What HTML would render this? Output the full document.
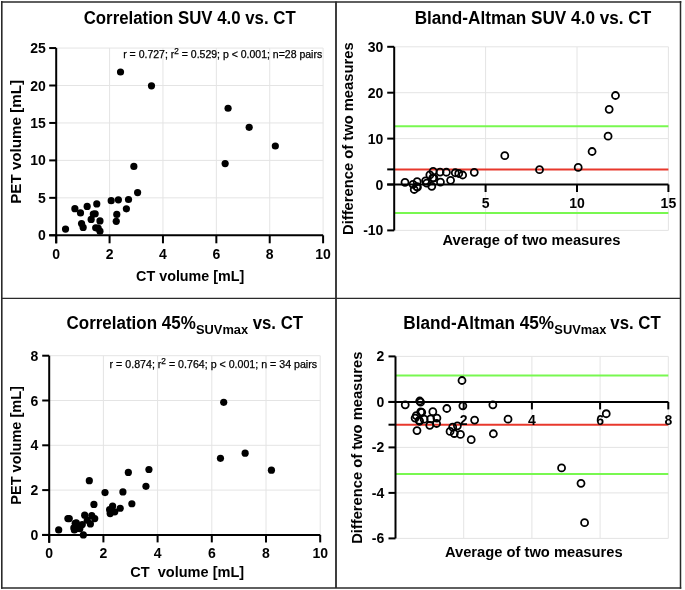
<!DOCTYPE html>
<html><head><meta charset="utf-8"><style>
html,body{margin:0;padding:0;background:#fff;width:685px;height:590px;overflow:hidden}
svg{display:block;will-change:transform}
</style></head><body>
<svg width="685" height="590" viewBox="0 0 685 590" font-family='"Liberation Sans", sans-serif'>
<rect x="0" y="0" width="685" height="590" fill="#fff"/>
<line x1="109.58" y1="48.05" x2="109.58" y2="235.30" stroke="#e4e4e4" stroke-width="1"/>
<line x1="162.96" y1="48.05" x2="162.96" y2="235.30" stroke="#e4e4e4" stroke-width="1"/>
<line x1="216.34" y1="48.05" x2="216.34" y2="235.30" stroke="#e4e4e4" stroke-width="1"/>
<line x1="269.72" y1="48.05" x2="269.72" y2="235.30" stroke="#e4e4e4" stroke-width="1"/>
<line x1="323.10" y1="48.05" x2="323.10" y2="235.30" stroke="#e4e4e4" stroke-width="1"/>
<line x1="56.20" y1="197.85" x2="323.10" y2="197.85" stroke="#e4e4e4" stroke-width="1"/>
<line x1="56.20" y1="160.40" x2="323.10" y2="160.40" stroke="#e4e4e4" stroke-width="1"/>
<line x1="56.20" y1="122.95" x2="323.10" y2="122.95" stroke="#e4e4e4" stroke-width="1"/>
<line x1="56.20" y1="85.50" x2="323.10" y2="85.50" stroke="#e4e4e4" stroke-width="1"/>
<line x1="56.20" y1="48.05" x2="323.10" y2="48.05" stroke="#e4e4e4" stroke-width="1"/>
<text x="123.20" y="58.00" font-size="10.5" font-weight="normal" text-anchor="start" textLength="199.00" lengthAdjust="spacingAndGlyphs" stroke="#000" stroke-width="0.25">r = 0.727; r<tspan font-size="8.2" dy="-4.3">2</tspan><tspan dy="4.3"> = 0.529; p &lt; 0.001; n=28 pairs</tspan></text>
<circle cx="65.54" cy="229.08" r="3.6" fill="#000"/>
<circle cx="74.88" cy="208.64" r="3.6" fill="#000"/>
<circle cx="80.49" cy="212.90" r="3.6" fill="#000"/>
<circle cx="81.56" cy="223.62" r="3.6" fill="#000"/>
<circle cx="83.16" cy="227.44" r="3.6" fill="#000"/>
<circle cx="87.16" cy="206.39" r="3.6" fill="#000"/>
<circle cx="91.16" cy="219.42" r="3.6" fill="#000"/>
<circle cx="93.30" cy="214.10" r="3.6" fill="#000"/>
<circle cx="95.17" cy="213.73" r="3.6" fill="#000"/>
<circle cx="96.77" cy="203.92" r="3.6" fill="#000"/>
<circle cx="95.70" cy="227.81" r="3.6" fill="#000"/>
<circle cx="99.97" cy="220.92" r="3.6" fill="#000"/>
<circle cx="99.97" cy="231.18" r="3.6" fill="#000"/>
<circle cx="98.10" cy="228.03" r="3.6" fill="#000"/>
<circle cx="111.18" cy="200.70" r="3.6" fill="#000"/>
<circle cx="118.39" cy="199.87" r="3.6" fill="#000"/>
<circle cx="128.53" cy="199.50" r="3.6" fill="#000"/>
<circle cx="137.60" cy="192.53" r="3.6" fill="#000"/>
<circle cx="126.39" cy="208.79" r="3.6" fill="#000"/>
<circle cx="116.79" cy="214.40" r="3.6" fill="#000"/>
<circle cx="116.25" cy="221.37" r="3.6" fill="#000"/>
<circle cx="120.52" cy="72.02" r="3.6" fill="#000"/>
<circle cx="151.48" cy="85.87" r="3.6" fill="#000"/>
<circle cx="228.08" cy="108.27" r="3.6" fill="#000"/>
<circle cx="249.17" cy="127.29" r="3.6" fill="#000"/>
<circle cx="275.32" cy="146.02" r="3.6" fill="#000"/>
<circle cx="225.15" cy="163.62" r="3.6" fill="#000"/>
<circle cx="133.87" cy="166.47" r="3.6" fill="#000"/>
<line x1="56.20" y1="48.05" x2="56.20" y2="243.30" stroke="#000" stroke-width="2"/>
<line x1="49.20" y1="235.30" x2="323.10" y2="235.30" stroke="#000" stroke-width="2"/>
<line x1="49.20" y1="235.30" x2="56.20" y2="235.30" stroke="#000" stroke-width="2"/>
<text x="45.80" y="240.30" font-size="14" font-weight="bold" text-anchor="end" >0</text>
<line x1="49.20" y1="197.85" x2="56.20" y2="197.85" stroke="#000" stroke-width="2"/>
<text x="45.80" y="202.85" font-size="14" font-weight="bold" text-anchor="end" >5</text>
<line x1="49.20" y1="160.40" x2="56.20" y2="160.40" stroke="#000" stroke-width="2"/>
<text x="45.80" y="165.40" font-size="14" font-weight="bold" text-anchor="end" >10</text>
<line x1="49.20" y1="122.95" x2="56.20" y2="122.95" stroke="#000" stroke-width="2"/>
<text x="45.80" y="127.95" font-size="14" font-weight="bold" text-anchor="end" >15</text>
<line x1="49.20" y1="85.50" x2="56.20" y2="85.50" stroke="#000" stroke-width="2"/>
<text x="45.80" y="90.50" font-size="14" font-weight="bold" text-anchor="end" >20</text>
<line x1="49.20" y1="48.05" x2="56.20" y2="48.05" stroke="#000" stroke-width="2"/>
<text x="45.80" y="53.05" font-size="14" font-weight="bold" text-anchor="end" >25</text>
<line x1="56.20" y1="235.30" x2="56.20" y2="243.30" stroke="#000" stroke-width="2"/>
<text x="56.20" y="259.20" font-size="14" font-weight="bold" text-anchor="middle" >0</text>
<line x1="109.58" y1="235.30" x2="109.58" y2="243.30" stroke="#000" stroke-width="2"/>
<text x="109.58" y="259.20" font-size="14" font-weight="bold" text-anchor="middle" >2</text>
<line x1="162.96" y1="235.30" x2="162.96" y2="243.30" stroke="#000" stroke-width="2"/>
<text x="162.96" y="259.20" font-size="14" font-weight="bold" text-anchor="middle" >4</text>
<line x1="216.34" y1="235.30" x2="216.34" y2="243.30" stroke="#000" stroke-width="2"/>
<text x="216.34" y="259.20" font-size="14" font-weight="bold" text-anchor="middle" >6</text>
<line x1="269.72" y1="235.30" x2="269.72" y2="243.30" stroke="#000" stroke-width="2"/>
<text x="269.72" y="259.20" font-size="14" font-weight="bold" text-anchor="middle" >8</text>
<line x1="323.10" y1="235.30" x2="323.10" y2="243.30" stroke="#000" stroke-width="2"/>
<text x="323.10" y="259.20" font-size="14" font-weight="bold" text-anchor="middle" >10</text>
<text x="83.71" y="23.80" font-size="17.5" font-weight="bold" text-anchor="start" textLength="211.97" lengthAdjust="spacingAndGlyphs" >Correlation SUV 4.0 vs. CT</text>
<text x="136.11" y="281.40" font-size="14.5" font-weight="bold" text-anchor="start" textLength="108.19" lengthAdjust="spacingAndGlyphs" >CT volume [mL]</text>
<g transform="translate(20.80,0) rotate(-90)">
<text x="-203.81" y="0.00" font-size="14.5" font-weight="bold" text-anchor="start" textLength="123.87" lengthAdjust="spacingAndGlyphs" >PET volume [mL]</text>
</g>
<line x1="485.60" y1="46.80" x2="485.60" y2="230.40" stroke="#e4e4e4" stroke-width="1"/>
<line x1="577.00" y1="46.80" x2="577.00" y2="230.40" stroke="#e4e4e4" stroke-width="1"/>
<line x1="668.40" y1="46.80" x2="668.40" y2="230.40" stroke="#e4e4e4" stroke-width="1"/>
<line x1="394.20" y1="46.80" x2="668.40" y2="46.80" stroke="#e4e4e4" stroke-width="1"/>
<line x1="394.20" y1="92.70" x2="668.40" y2="92.70" stroke="#e4e4e4" stroke-width="1"/>
<line x1="394.20" y1="138.60" x2="668.40" y2="138.60" stroke="#e4e4e4" stroke-width="1"/>
<line x1="394.20" y1="230.40" x2="668.40" y2="230.40" stroke="#e4e4e4" stroke-width="1"/>
<line x1="394.20" y1="126.30" x2="668.40" y2="126.30" stroke="#78f850" stroke-width="2"/>
<line x1="394.20" y1="213.00" x2="668.40" y2="213.00" stroke="#78f850" stroke-width="2"/>
<line x1="394.20" y1="169.40" x2="668.40" y2="169.40" stroke="#e8382c" stroke-width="2"/>
<line x1="394.20" y1="46.80" x2="394.20" y2="230.40" stroke="#000" stroke-width="2"/>
<line x1="387.20" y1="184.50" x2="668.40" y2="184.50" stroke="#000" stroke-width="2"/>
<line x1="387.20" y1="46.80" x2="394.20" y2="46.80" stroke="#000" stroke-width="2"/>
<text x="383.40" y="51.80" font-size="14" font-weight="bold" text-anchor="end" >30</text>
<line x1="387.20" y1="92.70" x2="394.20" y2="92.70" stroke="#000" stroke-width="2"/>
<text x="383.40" y="97.70" font-size="14" font-weight="bold" text-anchor="end" >20</text>
<line x1="387.20" y1="138.60" x2="394.20" y2="138.60" stroke="#000" stroke-width="2"/>
<text x="383.40" y="143.60" font-size="14" font-weight="bold" text-anchor="end" >10</text>
<line x1="387.20" y1="184.50" x2="394.20" y2="184.50" stroke="#000" stroke-width="2"/>
<text x="383.40" y="189.50" font-size="14" font-weight="bold" text-anchor="end" >0</text>
<line x1="387.20" y1="230.40" x2="394.20" y2="230.40" stroke="#000" stroke-width="2"/>
<text x="383.40" y="235.40" font-size="14" font-weight="bold" text-anchor="end" >-10</text>
<line x1="387.20" y1="169.40" x2="394.20" y2="169.40" stroke="#000" stroke-width="2"/>
<line x1="485.60" y1="184.50" x2="485.60" y2="192.00" stroke="#000" stroke-width="2"/>
<text x="485.60" y="207.60" font-size="14" font-weight="bold" text-anchor="middle" >5</text>
<line x1="577.00" y1="184.50" x2="577.00" y2="192.00" stroke="#000" stroke-width="2"/>
<text x="577.00" y="207.60" font-size="14" font-weight="bold" text-anchor="middle" >10</text>
<line x1="668.40" y1="184.50" x2="668.40" y2="192.00" stroke="#000" stroke-width="2"/>
<text x="668.40" y="207.60" font-size="14" font-weight="bold" text-anchor="middle" >15</text>
<circle cx="404.99" cy="182.30" r="3.5" fill="none" stroke="#000" stroke-width="1.8"/>
<circle cx="433.14" cy="171.37" r="3.5" fill="none" stroke="#000" stroke-width="1.8"/>
<circle cx="429.85" cy="174.95" r="3.5" fill="none" stroke="#000" stroke-width="1.8"/>
<circle cx="417.14" cy="181.70" r="3.5" fill="none" stroke="#000" stroke-width="1.8"/>
<circle cx="413.03" cy="184.32" r="3.5" fill="none" stroke="#000" stroke-width="1.8"/>
<circle cx="440.08" cy="172.11" r="3.5" fill="none" stroke="#000" stroke-width="1.8"/>
<circle cx="425.55" cy="180.78" r="3.5" fill="none" stroke="#000" stroke-width="1.8"/>
<circle cx="432.77" cy="177.89" r="3.5" fill="none" stroke="#000" stroke-width="1.8"/>
<circle cx="433.87" cy="177.98" r="3.5" fill="none" stroke="#000" stroke-width="1.8"/>
<circle cx="446.39" cy="172.24" r="3.5" fill="none" stroke="#000" stroke-width="1.8"/>
<circle cx="416.87" cy="186.70" r="3.5" fill="none" stroke="#000" stroke-width="1.8"/>
<circle cx="426.74" cy="183.21" r="3.5" fill="none" stroke="#000" stroke-width="1.8"/>
<circle cx="414.22" cy="189.50" r="3.5" fill="none" stroke="#000" stroke-width="1.8"/>
<circle cx="417.42" cy="187.25" r="3.5" fill="none" stroke="#000" stroke-width="1.8"/>
<circle cx="455.26" cy="172.75" r="3.5" fill="none" stroke="#000" stroke-width="1.8"/>
<circle cx="458.73" cy="173.48" r="3.5" fill="none" stroke="#000" stroke-width="1.8"/>
<circle cx="462.66" cy="175.00" r="3.5" fill="none" stroke="#000" stroke-width="1.8"/>
<circle cx="474.27" cy="172.29" r="3.5" fill="none" stroke="#000" stroke-width="1.8"/>
<circle cx="450.59" cy="180.32" r="3.5" fill="none" stroke="#000" stroke-width="1.8"/>
<circle cx="440.45" cy="182.11" r="3.5" fill="none" stroke="#000" stroke-width="1.8"/>
<circle cx="431.77" cy="186.29" r="3.5" fill="none" stroke="#000" stroke-width="1.8"/>
<circle cx="615.48" cy="95.50" r="3.5" fill="none" stroke="#000" stroke-width="1.8"/>
<circle cx="609.17" cy="109.32" r="3.5" fill="none" stroke="#000" stroke-width="1.8"/>
<circle cx="608.08" cy="136.21" r="3.5" fill="none" stroke="#000" stroke-width="1.8"/>
<circle cx="592.08" cy="151.50" r="3.5" fill="none" stroke="#000" stroke-width="1.8"/>
<circle cx="578.19" cy="167.47" r="3.5" fill="none" stroke="#000" stroke-width="1.8"/>
<circle cx="539.53" cy="169.63" r="3.5" fill="none" stroke="#000" stroke-width="1.8"/>
<circle cx="504.79" cy="155.67" r="3.5" fill="none" stroke="#000" stroke-width="1.8"/>
<text x="414.65" y="23.80" font-size="17.5" font-weight="bold" text-anchor="start" textLength="236.63" lengthAdjust="spacingAndGlyphs" >Bland-Altman SUV 4.0 vs. CT</text>
<text x="442.43" y="245.40" font-size="14.5" font-weight="bold" text-anchor="start" textLength="177.97" lengthAdjust="spacingAndGlyphs" >Average of two measures</text>
<g transform="translate(353.00,0) rotate(-90)">
<text x="-234.99" y="0.00" font-size="14.5" font-weight="bold" text-anchor="start" textLength="192.59" lengthAdjust="spacingAndGlyphs" >Difference of two measures</text>
</g>
<line x1="103.40" y1="355.70" x2="103.40" y2="534.90" stroke="#e4e4e4" stroke-width="1"/>
<line x1="157.60" y1="355.70" x2="157.60" y2="534.90" stroke="#e4e4e4" stroke-width="1"/>
<line x1="211.80" y1="355.70" x2="211.80" y2="534.90" stroke="#e4e4e4" stroke-width="1"/>
<line x1="266.00" y1="355.70" x2="266.00" y2="534.90" stroke="#e4e4e4" stroke-width="1"/>
<line x1="320.20" y1="355.70" x2="320.20" y2="534.90" stroke="#e4e4e4" stroke-width="1"/>
<line x1="49.20" y1="490.10" x2="320.20" y2="490.10" stroke="#e4e4e4" stroke-width="1"/>
<line x1="49.20" y1="445.30" x2="320.20" y2="445.30" stroke="#e4e4e4" stroke-width="1"/>
<line x1="49.20" y1="400.50" x2="320.20" y2="400.50" stroke="#e4e4e4" stroke-width="1"/>
<line x1="49.20" y1="355.70" x2="320.20" y2="355.70" stroke="#e4e4e4" stroke-width="1"/>
<text x="109.60" y="368.00" font-size="10.5" font-weight="normal" text-anchor="start" textLength="207.50" lengthAdjust="spacingAndGlyphs" stroke="#000" stroke-width="0.25">r = 0.874; r<tspan font-size="8.2" dy="-4.3">2</tspan><tspan dy="4.3"> = 0.764; p &lt; 0.001; n = 34 pairs</tspan></text>
<circle cx="58.69" cy="529.97" r="3.6" fill="#000"/>
<circle cx="67.90" cy="518.55" r="3.6" fill="#000"/>
<circle cx="69.25" cy="518.55" r="3.6" fill="#000"/>
<circle cx="75.22" cy="523.25" r="3.6" fill="#000"/>
<circle cx="73.86" cy="527.96" r="3.6" fill="#000"/>
<circle cx="79.01" cy="528.40" r="3.6" fill="#000"/>
<circle cx="84.70" cy="515.19" r="3.6" fill="#000"/>
<circle cx="83.35" cy="534.90" r="3.6" fill="#000"/>
<circle cx="91.75" cy="515.64" r="3.6" fill="#000"/>
<circle cx="94.73" cy="518.55" r="3.6" fill="#000"/>
<circle cx="90.39" cy="523.92" r="3.6" fill="#000"/>
<circle cx="76.30" cy="522.80" r="3.6" fill="#000"/>
<circle cx="74.40" cy="529.97" r="3.6" fill="#000"/>
<circle cx="82.26" cy="524.60" r="3.6" fill="#000"/>
<circle cx="93.92" cy="504.44" r="3.6" fill="#000"/>
<circle cx="89.31" cy="480.69" r="3.6" fill="#000"/>
<circle cx="105.03" cy="492.56" r="3.6" fill="#000"/>
<circle cx="122.91" cy="491.89" r="3.6" fill="#000"/>
<circle cx="128.33" cy="472.40" r="3.6" fill="#000"/>
<circle cx="148.93" cy="469.49" r="3.6" fill="#000"/>
<circle cx="145.95" cy="486.29" r="3.6" fill="#000"/>
<circle cx="131.86" cy="503.76" r="3.6" fill="#000"/>
<circle cx="120.20" cy="508.24" r="3.6" fill="#000"/>
<circle cx="112.61" cy="506.00" r="3.6" fill="#000"/>
<circle cx="110.18" cy="513.62" r="3.6" fill="#000"/>
<circle cx="114.78" cy="511.83" r="3.6" fill="#000"/>
<circle cx="109.63" cy="509.70" r="3.6" fill="#000"/>
<circle cx="223.72" cy="402.29" r="3.6" fill="#000"/>
<circle cx="220.47" cy="458.29" r="3.6" fill="#000"/>
<circle cx="245.13" cy="453.14" r="3.6" fill="#000"/>
<circle cx="271.42" cy="470.16" r="3.6" fill="#000"/>
<circle cx="79.82" cy="528.63" r="3.6" fill="#000"/>
<circle cx="87.28" cy="520.23" r="3.6" fill="#000"/>
<line x1="49.20" y1="355.70" x2="49.20" y2="542.90" stroke="#000" stroke-width="2"/>
<line x1="42.20" y1="534.90" x2="320.20" y2="534.90" stroke="#000" stroke-width="2"/>
<line x1="42.20" y1="534.90" x2="49.20" y2="534.90" stroke="#000" stroke-width="2"/>
<text x="38.40" y="539.90" font-size="14" font-weight="bold" text-anchor="end" >0</text>
<line x1="42.20" y1="490.10" x2="49.20" y2="490.10" stroke="#000" stroke-width="2"/>
<text x="38.40" y="495.10" font-size="14" font-weight="bold" text-anchor="end" >2</text>
<line x1="42.20" y1="445.30" x2="49.20" y2="445.30" stroke="#000" stroke-width="2"/>
<text x="38.40" y="450.30" font-size="14" font-weight="bold" text-anchor="end" >4</text>
<line x1="42.20" y1="400.50" x2="49.20" y2="400.50" stroke="#000" stroke-width="2"/>
<text x="38.40" y="405.50" font-size="14" font-weight="bold" text-anchor="end" >6</text>
<line x1="42.20" y1="355.70" x2="49.20" y2="355.70" stroke="#000" stroke-width="2"/>
<text x="38.40" y="360.70" font-size="14" font-weight="bold" text-anchor="end" >8</text>
<line x1="49.20" y1="534.90" x2="49.20" y2="542.40" stroke="#000" stroke-width="2"/>
<text x="49.20" y="557.60" font-size="14" font-weight="bold" text-anchor="middle" >0</text>
<line x1="103.40" y1="534.90" x2="103.40" y2="542.40" stroke="#000" stroke-width="2"/>
<text x="103.40" y="557.60" font-size="14" font-weight="bold" text-anchor="middle" >2</text>
<line x1="157.60" y1="534.90" x2="157.60" y2="542.40" stroke="#000" stroke-width="2"/>
<text x="157.60" y="557.60" font-size="14" font-weight="bold" text-anchor="middle" >4</text>
<line x1="211.80" y1="534.90" x2="211.80" y2="542.40" stroke="#000" stroke-width="2"/>
<text x="211.80" y="557.60" font-size="14" font-weight="bold" text-anchor="middle" >6</text>
<line x1="266.00" y1="534.90" x2="266.00" y2="542.40" stroke="#000" stroke-width="2"/>
<text x="266.00" y="557.60" font-size="14" font-weight="bold" text-anchor="middle" >8</text>
<line x1="320.20" y1="534.90" x2="320.20" y2="542.40" stroke="#000" stroke-width="2"/>
<text x="320.20" y="557.60" font-size="14" font-weight="bold" text-anchor="middle" >10</text>
<text x="66.50" y="328.90" font-size="17.5" font-weight="bold" text-anchor="start" textLength="129.24" lengthAdjust="spacingAndGlyphs" >Correlation 45%</text>
<text x="196.03" y="334.00" font-size="13" font-weight="bold" text-anchor="start" textLength="52.06" lengthAdjust="spacingAndGlyphs" >SUVmax</text>
<text x="252.73" y="328.90" font-size="17.5" font-weight="bold" text-anchor="start" textLength="50.25" lengthAdjust="spacingAndGlyphs" >vs. CT</text>
<text x="130.30" y="576.90" font-size="14.5" font-weight="bold" text-anchor="start" textLength="113.81" lengthAdjust="spacingAndGlyphs" >CT&#160; volume [mL]</text>
<g transform="translate(20.70,0) rotate(-90)">
<text x="-504.67" y="0.00" font-size="14" font-weight="bold" text-anchor="start" textLength="118.49" lengthAdjust="spacingAndGlyphs" >PET volume [mL]</text>
</g>
<line x1="463.70" y1="356.40" x2="463.70" y2="538.40" stroke="#e4e4e4" stroke-width="1"/>
<line x1="531.90" y1="356.40" x2="531.90" y2="538.40" stroke="#e4e4e4" stroke-width="1"/>
<line x1="600.10" y1="356.40" x2="600.10" y2="538.40" stroke="#e4e4e4" stroke-width="1"/>
<line x1="668.30" y1="356.40" x2="668.30" y2="538.40" stroke="#e4e4e4" stroke-width="1"/>
<line x1="395.50" y1="356.40" x2="668.30" y2="356.40" stroke="#e4e4e4" stroke-width="1"/>
<line x1="395.50" y1="447.40" x2="668.30" y2="447.40" stroke="#e4e4e4" stroke-width="1"/>
<line x1="395.50" y1="492.90" x2="668.30" y2="492.90" stroke="#e4e4e4" stroke-width="1"/>
<line x1="395.50" y1="538.40" x2="668.30" y2="538.40" stroke="#e4e4e4" stroke-width="1"/>
<line x1="395.50" y1="375.40" x2="668.30" y2="375.40" stroke="#78f850" stroke-width="2"/>
<line x1="395.50" y1="474.00" x2="668.30" y2="474.00" stroke="#78f850" stroke-width="2"/>
<line x1="395.50" y1="424.70" x2="668.30" y2="424.70" stroke="#e8382c" stroke-width="2"/>
<line x1="395.50" y1="356.40" x2="395.50" y2="538.40" stroke="#000" stroke-width="2"/>
<line x1="388.50" y1="401.90" x2="668.30" y2="401.90" stroke="#000" stroke-width="2"/>
<line x1="388.50" y1="356.40" x2="395.50" y2="356.40" stroke="#000" stroke-width="2"/>
<text x="384.20" y="361.40" font-size="14" font-weight="bold" text-anchor="end" >2</text>
<line x1="388.50" y1="401.90" x2="395.50" y2="401.90" stroke="#000" stroke-width="2"/>
<text x="384.20" y="406.90" font-size="14" font-weight="bold" text-anchor="end" >0</text>
<line x1="388.50" y1="447.40" x2="395.50" y2="447.40" stroke="#000" stroke-width="2"/>
<text x="384.20" y="452.40" font-size="14" font-weight="bold" text-anchor="end" >-2</text>
<line x1="388.50" y1="492.90" x2="395.50" y2="492.90" stroke="#000" stroke-width="2"/>
<text x="384.20" y="497.90" font-size="14" font-weight="bold" text-anchor="end" >-4</text>
<line x1="388.50" y1="538.40" x2="395.50" y2="538.40" stroke="#000" stroke-width="2"/>
<text x="384.20" y="543.40" font-size="14" font-weight="bold" text-anchor="end" >-6</text>
<line x1="388.50" y1="424.70" x2="395.50" y2="424.70" stroke="#000" stroke-width="2"/>
<line x1="463.70" y1="401.90" x2="463.70" y2="409.40" stroke="#000" stroke-width="2"/>
<text x="463.70" y="424.60" font-size="14" font-weight="bold" text-anchor="middle" >2</text>
<line x1="531.90" y1="401.90" x2="531.90" y2="409.40" stroke="#000" stroke-width="2"/>
<text x="531.90" y="424.60" font-size="14" font-weight="bold" text-anchor="middle" >4</text>
<line x1="600.10" y1="401.90" x2="600.10" y2="409.40" stroke="#000" stroke-width="2"/>
<text x="600.10" y="424.60" font-size="14" font-weight="bold" text-anchor="middle" >6</text>
<line x1="668.30" y1="401.90" x2="668.30" y2="409.40" stroke="#000" stroke-width="2"/>
<text x="668.30" y="424.60" font-size="14" font-weight="bold" text-anchor="middle" >8</text>
<circle cx="405.22" cy="404.86" r="3.5" fill="none" stroke="#000" stroke-width="1.8"/>
<circle cx="419.71" cy="400.99" r="3.5" fill="none" stroke="#000" stroke-width="1.8"/>
<circle cx="420.56" cy="402.13" r="3.5" fill="none" stroke="#000" stroke-width="1.8"/>
<circle cx="420.73" cy="411.91" r="3.5" fill="none" stroke="#000" stroke-width="1.8"/>
<circle cx="416.30" cy="415.55" r="3.5" fill="none" stroke="#000" stroke-width="1.8"/>
<circle cx="419.20" cy="420.33" r="3.5" fill="none" stroke="#000" stroke-width="1.8"/>
<circle cx="432.84" cy="411.68" r="3.5" fill="none" stroke="#000" stroke-width="1.8"/>
<circle cx="416.98" cy="430.56" r="3.5" fill="none" stroke="#000" stroke-width="1.8"/>
<circle cx="436.93" cy="418.05" r="3.5" fill="none" stroke="#000" stroke-width="1.8"/>
<circle cx="436.59" cy="423.51" r="3.5" fill="none" stroke="#000" stroke-width="1.8"/>
<circle cx="429.77" cy="425.33" r="3.5" fill="none" stroke="#000" stroke-width="1.8"/>
<circle cx="421.76" cy="412.36" r="3.5" fill="none" stroke="#000" stroke-width="1.8"/>
<circle cx="415.11" cy="418.05" r="3.5" fill="none" stroke="#000" stroke-width="1.8"/>
<circle cx="424.14" cy="419.19" r="3.5" fill="none" stroke="#000" stroke-width="1.8"/>
<circle cx="446.82" cy="408.50" r="3.5" fill="none" stroke="#000" stroke-width="1.8"/>
<circle cx="462.00" cy="380.51" r="3.5" fill="none" stroke="#000" stroke-width="1.8"/>
<circle cx="462.85" cy="405.77" r="3.5" fill="none" stroke="#000" stroke-width="1.8"/>
<circle cx="474.61" cy="420.10" r="3.5" fill="none" stroke="#000" stroke-width="1.8"/>
<circle cx="492.86" cy="404.86" r="3.5" fill="none" stroke="#000" stroke-width="1.8"/>
<circle cx="508.03" cy="419.19" r="3.5" fill="none" stroke="#000" stroke-width="1.8"/>
<circle cx="493.37" cy="433.75" r="3.5" fill="none" stroke="#000" stroke-width="1.8"/>
<circle cx="471.20" cy="439.66" r="3.5" fill="none" stroke="#000" stroke-width="1.8"/>
<circle cx="460.46" cy="434.43" r="3.5" fill="none" stroke="#000" stroke-width="1.8"/>
<circle cx="457.39" cy="425.79" r="3.5" fill="none" stroke="#000" stroke-width="1.8"/>
<circle cx="450.06" cy="431.47" r="3.5" fill="none" stroke="#000" stroke-width="1.8"/>
<circle cx="454.32" cy="433.52" r="3.5" fill="none" stroke="#000" stroke-width="1.8"/>
<circle cx="452.70" cy="427.04" r="3.5" fill="none" stroke="#000" stroke-width="1.8"/>
<circle cx="606.24" cy="413.73" r="3.5" fill="none" stroke="#000" stroke-width="1.8"/>
<circle cx="561.57" cy="467.88" r="3.5" fill="none" stroke="#000" stroke-width="1.8"/>
<circle cx="581.00" cy="483.34" r="3.5" fill="none" stroke="#000" stroke-width="1.8"/>
<circle cx="584.58" cy="522.70" r="3.5" fill="none" stroke="#000" stroke-width="1.8"/>
<circle cx="419.54" cy="421.24" r="3.5" fill="none" stroke="#000" stroke-width="1.8"/>
<circle cx="430.62" cy="418.96" r="3.5" fill="none" stroke="#000" stroke-width="1.8"/>
<text x="403.35" y="328.90" font-size="17.5" font-weight="bold" text-anchor="start" textLength="150.80" lengthAdjust="spacingAndGlyphs" >Bland-Altman 45%</text>
<text x="554.33" y="334.20" font-size="13" font-weight="bold" text-anchor="start" textLength="52.06" lengthAdjust="spacingAndGlyphs" >SUVmax</text>
<text x="610.33" y="328.90" font-size="17.5" font-weight="bold" text-anchor="start" textLength="50.45" lengthAdjust="spacingAndGlyphs" >vs. CT</text>
<text x="444.93" y="557.40" font-size="14.5" font-weight="bold" text-anchor="start" textLength="177.67" lengthAdjust="spacingAndGlyphs" >Average of two measures</text>
<g transform="translate(361.90,0) rotate(-90)">
<text x="-543.88" y="0.00" font-size="14.5" font-weight="bold" text-anchor="start" textLength="192.29" lengthAdjust="spacingAndGlyphs" >Difference of two measures</text>
</g>
<line x1="1.00" y1="1.90" x2="681.30" y2="1.90" stroke="#2a2a2a" stroke-width="1.5"/>
<line x1="1.00" y1="588.00" x2="681.30" y2="588.00" stroke="#2a2a2a" stroke-width="1.6"/>
<line x1="1.80" y1="1.10" x2="1.80" y2="588.80" stroke="#2a2a2a" stroke-width="1.6"/>
<line x1="680.50" y1="1.10" x2="680.50" y2="588.80" stroke="#2a2a2a" stroke-width="1.5"/>
<line x1="336.00" y1="1.50" x2="336.00" y2="588.00" stroke="#2a2a2a" stroke-width="1.8"/>
<line x1="1.80" y1="298.40" x2="680.50" y2="298.40" stroke="#2a2a2a" stroke-width="1.3"/>
</svg>
</body></html>
